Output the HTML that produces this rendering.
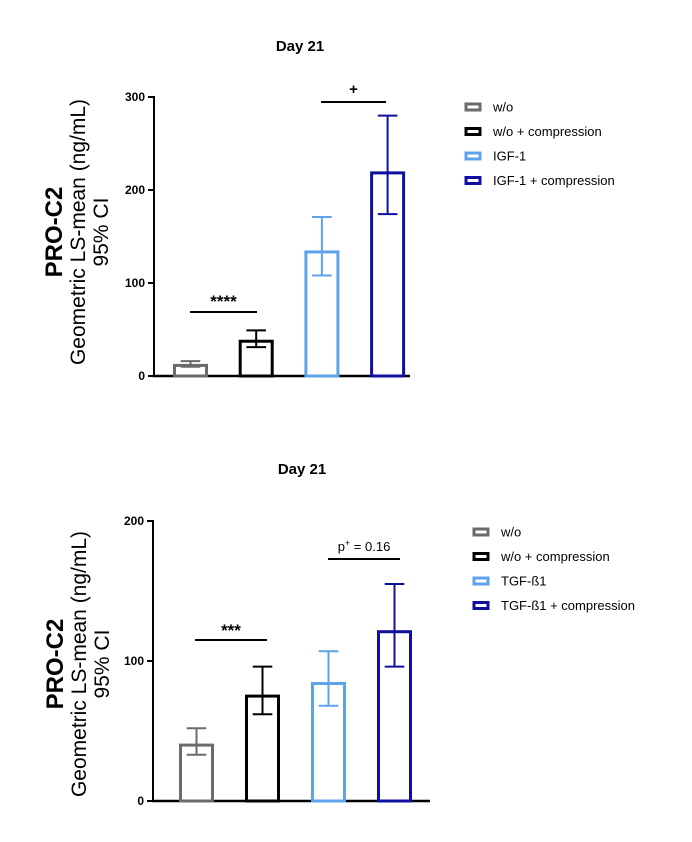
<!DOCTYPE html>
<html><head><meta charset="utf-8"><style>
body{margin:0;background:#fff;}
svg{display:block;font-family:"Liberation Sans",Arial,sans-serif;}
</style></head><body>
<svg id="s" width="692" height="842" viewBox="0 0 692 842"></svg>
<script>
// Chart 1 data
const cats1 = ["w/o","w/o + compression","IGF-1","IGF-1 + compression"];
const vals1 = [13, 39, 135, 220];
const lo1 = [10, 31, 108, 174];
const hi1 = [16, 49, 171, 280];
const ticks1 = [0, 100, 200, 300];
// Chart 2 data
const cats2 = ["w/o","w/o + compression","TGF-ß1","TGF-ß1 + compression"];
const vals2 = [41, 76, 85, 122];
const lo2 = [33, 62, 68, 96];
const hi2 = [52, 96, 107, 155];
const ticks2 = [0, 100, 200];
const colors = ["#6b6b6b","#000000","#5ea3ea","#1010a0"];

const NS="http://www.w3.org/2000/svg";
const svg=document.getElementById('s');
function el(tag,attrs,parent){const e=document.createElementNS(NS,tag);for(const k in attrs)e.setAttribute(k,attrs[k]);(parent||svg).appendChild(e);return e;}

function chart(cfg){
  const g=el('g',{});
  
  
  const y=v=>cfg.y0-(v-0)*(cfg.y0-cfg.yTop)/cfg.max;
  const t=el('text',{x:cfg.titleX,y:cfg.titleY,'text-anchor':'middle','font-size':15,'font-weight':'bold'},g);
  t.textContent="Day 21";
  
  
  const yt=el('text',{transform:`translate(${cfg.ytx},${cfg.yty}) rotate(-90)`,'text-anchor':'middle'},g);
  
  
  const l1=el('tspan',{x:0,dy:0,'font-size':24,'font-weight':'bold'},yt);l1.textContent="PRO-C2";
  const l2=el('tspan',{x:0,dy:23,'font-size':21},yt);l2.textContent="Geometric LS-mean (ng/mL)";
  const l3=el('tspan',{x:0,dy:23,'font-size':21},yt);l3.textContent="95% CI";
  const ax=el('g',{},g);
  
  
  el('line',{x1:cfg.ax,x2:cfg.ax,y1:y(cfg.max)-1,y2:cfg.y0+1,stroke:'#000','stroke-width':2},ax);
  cfg.ticks.forEach(tv=>{
    el('line',{x1:cfg.ax-6,x2:cfg.ax,y1:y(tv),y2:y(tv),stroke:'#000','stroke-width':2},ax);
    const tl=el('text',{x:cfg.ax-9,y:y(tv)+4,'text-anchor':'end','font-size':12,'font-weight':'bold'},ax);
    tl.textContent=tv;
    
    
  });
  const xa=el('line',{x1:cfg.ax-1,x2:cfg.axEnd,y1:cfg.y0,y2:cfg.y0,stroke:'#000','stroke-width':2.5},g);
  
  
  cfg.vals.forEach((v,i)=>{
    const x=cfg.bx0+i*cfg.step, w=cfg.bw, c=colors[i];
    const r=el('rect',{x:x+1.5,y:y(v)+1.5,width:w-3,height:cfg.y0-y(v)-1.5,fill:'none',stroke:c,'stroke-width':3},g);
    
    
    const cx=x+w/2;
    const eb=el('path',{d:`M${cx},${y(cfg.lo[i])}V${y(cfg.hi[i])}M${cx-w*0.28},${y(cfg.hi[i])}H${cx+w*0.28}M${cx-w*0.28},${y(cfg.lo[i])}H${cx+w*0.28}`,stroke:c,'stroke-width':2,fill:'none'},g);
    
    
  });
  cfg.sig.forEach(s=>{
    const sl=el('line',{x1:s.x1,x2:s.x2,y1:s.y,y2:s.y,stroke:'#000','stroke-width':2},g);
    
    
    const st=el('text',{x:(s.x1+s.x2)/2,y:s.ty,'text-anchor':'middle','font-size':s.fs,'font-weight':s.bold?'bold':'normal'},g);
    
    
    if(s.sup){const a=el('tspan',{},st);a.textContent="p";const b=el('tspan',{dy:-5,'font-size':9},st);b.textContent="+";const c2=el('tspan',{dy:5},st);c2.textContent=" = 0.16";}
    else st.textContent=s.text;
  });
  cfg.cats.forEach((c,i)=>{
    const lg=el('g',{},g);
    
    
    const ly=cfg.legY+i*cfg.legStep;
    el('rect',{x:cfg.legX+1,y:ly-3,width:14,height:6,fill:'none',stroke:colors[i],'stroke-width':3},lg);
    const lt=el('text',{x:cfg.legX+28,y:ly+4.5,'font-size':13},lg);
    lt.textContent=c;
  });
}
chart({name:'chart-igf1',vals:vals1,lo:lo1,hi:hi1,cats:cats1,ticks:ticks1,max:300,y0:376,yTop:97,ax:154,axEnd:410,
  bx0:173,step:65.7,bw:35,titleX:300,titleY:51,ytx:62,yty:232,legX:465,legY:107,legStep:24.5,
  sig:[{x1:190,x2:257,y:312,ty:307,text:"****",fs:17,bold:true},{x1:321,x2:386,y:102,ty:94,text:"+",fs:15,bold:true}]});
chart({name:'chart-tgfb1',vals:vals2,lo:lo2,hi:hi2,cats:cats2,ticks:ticks2,max:200,y0:801,yTop:521,ax:153,axEnd:430,
  bx0:179,step:66,bw:35,titleX:302,titleY:474,ytx:63,yty:664,legX:473,legY:532,legStep:24.5,
  sig:[{x1:195,x2:267,y:640,ty:636,text:"***",fs:17,bold:true},{x1:328,x2:400,y:559,ty:551,sup:true,fs:13}]});
</script>
</body></html>
